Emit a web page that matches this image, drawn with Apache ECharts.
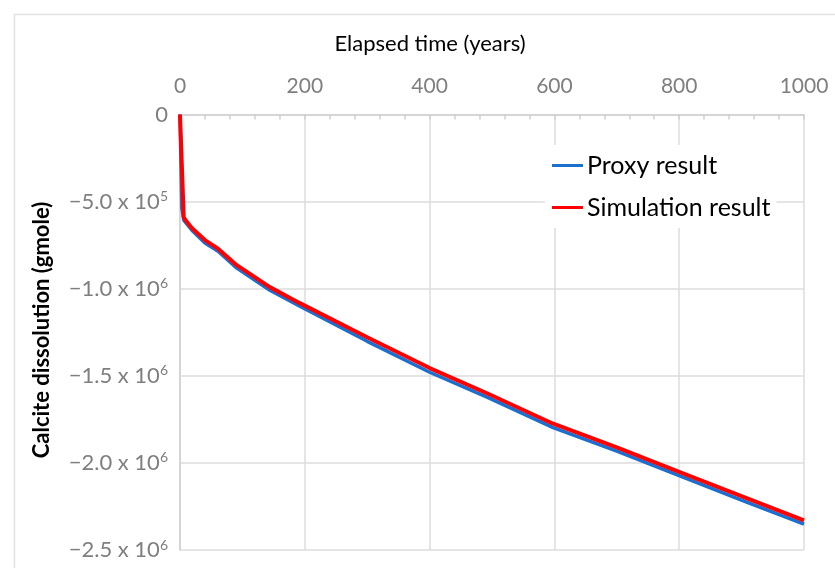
<!DOCTYPE html>
<html>
<head>
<meta charset="utf-8">
<style>
  html, body { margin: 0; padding: 0; background: #ffffff; }
  #chart { width: 835px; height: 568px; }
</style>
<script src="https://cdn.jsdelivr.net/npm/echarts@6/dist/echarts.min.js"></script>
</head>
<body>
<div id="chart"></div>
<script>
// Elapsed time (years) at which each value was read
const proxyYears = [0, 3, 6, 19, 40, 61, 91, 144, 192, 300, 401, 492, 598, 700, 806, 909, 1000];
const proxyValues = [0, -540000, -606000, -664000, -738000, -785000, -882000, -1009000, -1101000, -1302000, -1481000, -1622000, -1797000, -1933000, -2082000, -2226000, -2352000];

const simYears = [0, 6, 10, 19, 40, 61, 91, 144, 192, 300, 401, 492, 598, 700, 806, 909, 1000];
const simValues = [0, -590000, -612000, -652000, -721000, -770000, -865000, -991000, -1083000, -1279000, -1457000, -1600000, -1775000, -1911000, -2060000, -2203000, -2330000];

const seriesNames = ['Proxy result', 'Simulation result'];

// x tick labels
const xTickValues = [0, 200, 400, 600, 800, 1000];
const xTickLabels = ['0', '200', '400', '600', '800', '1000'];

// y tick labels: mantissa and power of ten for each tick value
const yTickValues = [0, -500000, -1000000, -1500000, -2000000, -2500000];
const yTickMantissa = ['0', '\u22125.0 x 10', '\u22121.0 x 10', '\u22121.5 x 10', '\u22122.0 x 10', '\u22122.5 x 10'];
const yTickPower = ['', '5', '6', '6', '6', '6'];

const FONT = 'Lato, "Open Sans", sans-serif';
const GRAY = '#7f7f7f';

const chart = echarts.init(document.getElementById('chart'), null, { renderer: 'canvas' });

function pairs(xs, ys) {
  return xs.map((x, i) => [x, ys[i]]);
}

chart.setOption({
  backgroundColor: '#ffffff',
  animation: false,
  grid: { left: 180, right: 31, top: 114.5, bottom: 18, containLabel: false },
  graphic: [
    {
      type: 'rect',
      silent: true,
      shape: { x: 14.5, y: 14.5, width: 900, height: 600 },
      style: { fill: 'none', stroke: '#e2e2e2', lineWidth: 1.5 }
    },
    {
      type: 'text',
      x: 430, y: 44,
      style: {
        text: 'Elapsed time (years)', font: '22px ' + FONT, fill: '#000000',
        align: 'center', verticalAlign: 'middle'
      }
    },
    {
      type: 'text',
      rotation: Math.PI / 2,
      x: 42, y: 330,
      style: {
        text: 'Calcite dissolution (gmole)',
        font: 'bold 22px ' + FONT, fill: '#000000',
        align: 'center', verticalAlign: 'middle'
      }
    }
  ],
  legend: {
    orient: 'vertical',
    left: 545, top: 145,
    backgroundColor: '#ffffff',
    padding: [8, 6, 8, 7],
    itemGap: 17,
    itemWidth: 31, itemHeight: 3,
    icon: 'rect',
    textStyle: { fontFamily: FONT, fontSize: 25, color: '#000000', padding: [0, 0, 0, -1] },
    data: seriesNames
  },
  xAxis: {
    type: 'value',
    position: 'top',
    min: 0, max: 1000, interval: 200,
    axisLine: { show: true, lineStyle: { color: '#cfcfcf', width: 1.5 } },
    axisTick: { show: true, inside: true, length: 5, lineStyle: { color: '#cfcfcf', width: 1.5 } },
    minorTick: { show: true, splitNumber: 5, length: 5, lineStyle: { color: '#cfcfcf', width: 1.5 } },
    splitLine: { show: true, lineStyle: { color: '#dcdcdc', width: 1.5 } },
    axisLabel: {
      fontFamily: FONT, fontSize: 21, color: GRAY, margin: 18,
      formatter: function (v) {
        const i = xTickValues.indexOf(v);
        return i < 0 ? '' : xTickLabels[i];
      }
    }
  },
  yAxis: {
    type: 'value',
    min: -2500000, max: 0, interval: 500000,
    axisLine: { show: true, lineStyle: { color: '#cfcfcf', width: 1.5 } },
    axisTick: { show: false },
    splitLine: { show: true, lineStyle: { color: '#dcdcdc', width: 1.5 } },
    axisLabel: {
      margin: 12,
      formatter: function (v) {
        const i = yTickValues.findIndex(t => Math.abs(t - v) < 1);
        if (i < 0) return '';
        if (!yTickPower[i]) return '{m|' + yTickMantissa[i] + '}';
        return '{m|' + yTickMantissa[i] + '}{p|' + yTickPower[i] + '}';
      },
      rich: {
        m: { fontFamily: FONT, fontSize: 22, color: GRAY },
        p: { fontFamily: FONT, fontSize: 14, color: GRAY, padding: [0, 0, 10, 0] }
      }
    }
  },
  series: [
    {
      name: seriesNames[0],
      type: 'line',
      showSymbol: false,
      color: '#1b6fce',
      lineStyle: { width: 3.5, color: '#1b6fce' },
      data: pairs(proxyYears, proxyValues),
      z: 2
    },
    {
      name: seriesNames[1],
      type: 'line',
      showSymbol: false,
      color: '#ff0000',
      lineStyle: { width: 4, color: '#ff0000' },
      data: pairs(simYears, simValues),
      z: 3
    }
  ]
});
</script>
</body>
</html>
